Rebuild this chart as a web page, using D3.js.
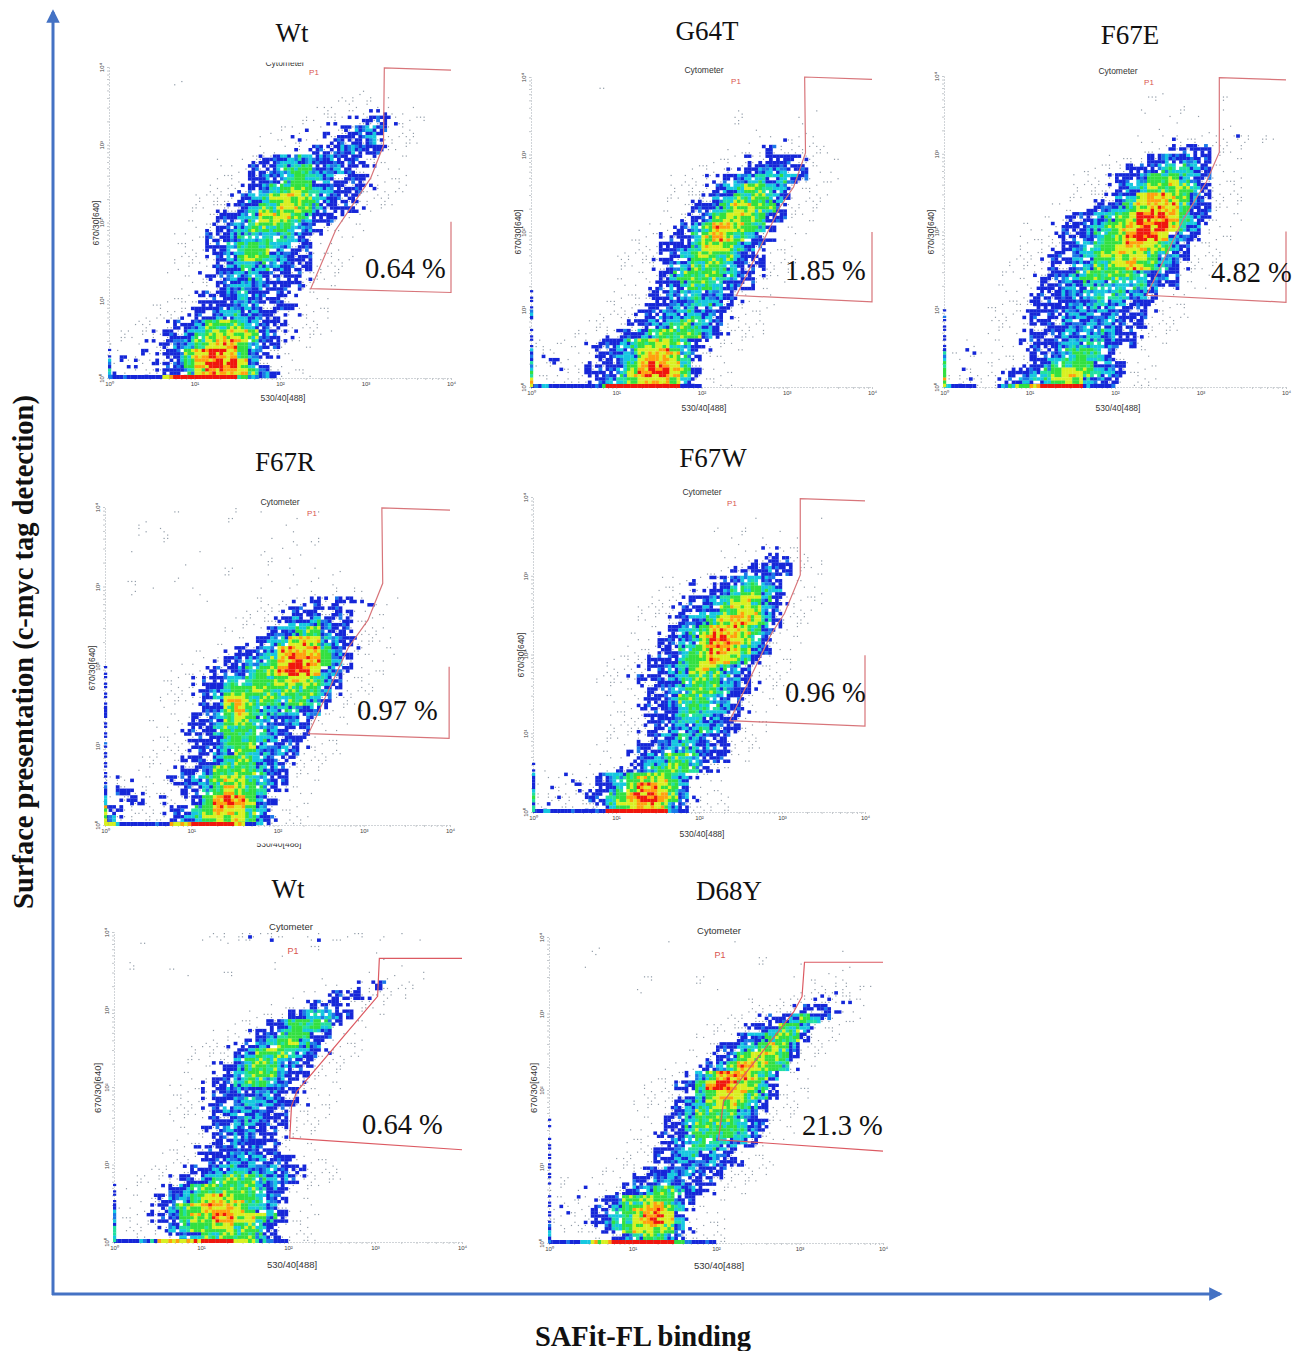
<!DOCTYPE html>
<html>
<head>
<meta charset="utf-8">
<script src="https://cdn.jsdelivr.net/npm/d3@7"></script>
<style>
  html, body { margin: 0; background: #fff; }
  svg { display: block; }
  .title, .pct, .axis-title { font-family: "Liberation Serif", serif; fill: #111; }
  .small { font-family: "Liberation Sans", sans-serif; fill: #333; }
  .tick text { font-family: "Liberation Sans", sans-serif; fill: #444; font-size: 6px; }
</style>
</head>
<body>
<div id="chart"></div>
<script>
// ---- Data -------------------------------------------------------
// Density, 8 cells per decade, top row = 10^4 side.
// . empty, 1 stray events, 2-3 blue, 4 light blue, 5 cyan, 6 green, 7 yellow, 8 orange, 9 red

const titles = ['Wt', 'G64T', 'F67E', 'F67R', 'F67W', 'Wt', 'D68Y'];
const percents = ['0.64 %', '1.85 %', '4.82 %', '0.97 %', '0.96 %', '0.64 %', '21.3 %'];
const decades = [0, 1, 2, 3, 4];

const gridWt1 = [
  '','......1','.......................1','.....................1111.1',
  '....................11212211','...................122223321',
  '................11212234431','................121123334211',
  '..............1112233444331','.............2334544443321',
  '.............3345664443321','.............3445665433321',
  '............23456665433321','...........23456776543321',
  '..........233566776533321','..........3345777653321',
  '.........23456666543211','.........334555554321',
  '.........33566654331','.........234666543321',
  '.........23455544331','.......1223445433321',
  '........12345443332','........23345433321',
  '.......2333444333211','.....1223345543322',
  '.....2334666643321','....233456777643221',
  '...223456788754321','.212234689986432',
  '.221234689997431','2212233578888643'
];
const gridG64T = [
  '','......1','','...................1......1',
  '......1............1.....1','.....................1...1',
  '....................1..21.1','...................112321111',
  '...................122333221','.................1223444331',
  '................22344555431','................2345665421',
  '...............23456665421','..............13356776631',
  '..............23467776431','.............23468876531',
  '............23357876532','...........133457765431',
  '...........233566664321','...........234566654331',
  '...........23566665432','..........123456654331',
  '.........123345544321','.........123344554321',
  '........123344554321','.......123345565432',
  '......1233456666432','.12..233456776532',
  '.21..133457887532','.22.1233468987531',
  '.1212334578998631','.1.1.23456788742'
];
const gridF67E = [
  '','....................1','...................1......1','..................1...1...1',
  '.....................1.1','....................11..1.1',
  '....................12111..21','....................123331',
  '................1.23444431','...............12334555431',
  '...............23346665431','..............123456676531',
  '.............1234578876431','.............2345678886431',
  '...........233456799986431','..........233456789997542',
  '..........23345678997543','.........123456678876531',
  '.........233456677765431','........123345667876542',
  '........23345666665443','........233445555554331',
  '.......12334455554431','......12333444544332',
  '.......2333444443332','.......2333444443331',
  '.......233344554332','..1....233445554332',
  '..2....23345665321','.1....123456665431',
  '.2..12334567765431','.22.12345567754321'
];
const gridF67R = [
  '......1.....1.1.1..1','...1.......1....11','...1.1.........1.1','.....1.........1.1.1',
  '..1.....1.....1.1.1','.......1.......1.1','...........1...1.1.1.1',
  '..1...1........1.1.1.1','..1.1...1.....1..1.1.1.1',
  '.........1......1223233221','...............123333321',
  '...............234554331','..............2345664331',
  '............123457875432','..........12334588886432',
  '.........12334568998643','.........23345678997542',
  '........23355666677653','........23466666666642',
  '........2357866656653','.......12346865555442',
  '.......2334676544432','.......2335666543331',
  '.......233466654332','......1233456654432',
  '.....12333466644321','.1...1233466665431',
  '.22.12334567765431','.3221.13356876532',
  '.232.2.2368986431','322..23356887642','42...23456777643'
];
const gridF67W = [
  '','','.....................1.....1','.................1..1..1',
  '...................1..1..1','..................1..1221.1',
  '...................1123331.1','.................1.23344311',
  '...............2123455431','..............12234566542',
  '.............123345676532','.............233456777531',
  '............133456788753','............234568887642',
  '............334579987531','..........1133567987643',
  '..........233456787653','.........1233456765432',
  '.........2333456665432','..........233456665432',
  '..........23346665432','..........23345655432',
  '.........123345554331','..........23344554331',
  '.........12344554331','.........23345554331',
  '........123456654331','.1.....12345676532',
  '.1.2.13456777642','.21.223457887641',
  '.22.133568998642','.2..123567887532'
];
const gridWt2 = [
  '......1.1.1.2.2...2.1.1.1.1.1','..1.......1.......1','........1......1........1',
  '.1...1........1.........1.1','....1.1...1........1...1.1..1',
  '.....................1223.1','..................123332.1',
  '...............11233321','..............123455431',
  '.............134666531','...........1234566531',
  '..........2234566542','..........2346665432',
  '.........2346665432','........12356664331',
  '........2335665432','........2344444332',
  '........2334544332','........2344443321',
  '........233454332','........23444332',
  '.......123344332','.......233444332',
  '.......13344443321','.....1233455544332',
  '.....2334566654432','...1234566666543',
  '..12345678776543','...23567888765431',
  '...2346778877653','...1245666766531','....134566666532'
];
const gridD68Y = [
  '...........1.....1','....1.......................1','....................1...1',
  '...1...................1..1.1','.........1....1........1.1.11',
  '........1.......1.......1.1211','...................1...1.22221',
  '...................1..123332','...................12334653',
  '.................123356642','................123456663',
  '...............1334567641','..............1234677763',
  '..............2346887652','............12468987641',
  '...........13468987652','............2356787653',
  '...........23456776531','..........13356666542',
  '...........3356666543','..........23356666543',
  '..........2345655443','.........1334555431',
  '........12334444332','.......12334443332',
  '.1.....2334543332','.1.2.12345665432',
  '.12.23466776431','.2..3356788752',
  '.1.23456789752','.1..2356777642','.....134566532'
];
const grids = [gridWt1, gridG64T, gridF67E, gridF67R, gridF67W, gridWt2, gridD68Y];

// events piled on the axes: along x from 10^0, along y from 10^0 upward
const stripsX = ['44335799999964', '4433345999999933', '433..46689999433', '74333378999984',
  '543333499999943', '3445788899987543', '4335789999996433'];
const stripsY = ['543', '765433.433', '76653333', '7754333333343333', '55443', '554433', '44333.33333.3'];

// gate outlines in decades [x, y]; right side stops where the % label box covers it
const gates = [
  [[4, 3.96], [3.22, 3.99], [3.21, 2.99], [3.06, 2.57], [2.65, 1.9], [2.36, 1.15], [4, 1.1], [4, 2.01]],
  [[4, 3.97], [3.21, 4], [3.22, 3.02], [3.08, 2.58], [2.92, 2.32], [2.41, 1.18], [4, 1.1], [4, 2]],
  [[4, 3.95], [3.22, 3.98], [3.22, 3.02], [3.07, 2.64], [2.8, 2.16], [2.37, 1.18], [4, 1.09], [4, 2]],
  [[4, 3.96], [3.21, 3.99], [3.22, 3.04], [3.05, 2.58], [2.82, 2.23], [2.36, 1.15], [3.99, 1.09], [3.99, 1.99]],
  [[4, 3.95], [3.22, 3.98], [3.22, 3.01], [3.03, 2.52], [2.87, 2.26], [2.37, 1.16], [4, 1.09], [4, 1.99]],
  [[4, 3.66], [3.05, 3.66], [3.03, 3.17], [2.1, 1.94], [2.04, 1.75], [2.02, 1.34], [4, 1.19]],
  [[4, 3.67], [3.06, 3.67], [3.03, 3.22], [2.93, 3.02], [2.09, 1.85], [2.03, 1.35], [4, 1.2]]
];

// ---- Layout -----------------------------------------------------
const W = 1302, H = 1351;
const frames = [
  { l: 109, r: 451, t: 67,  b: 378,  title: [292, 42],  pct: [365, 278],  cyto: [285, 66],  p1: [314, 75],  xl: [283, 401],  yl: [96, 223],   fs: 8.5 },
  { l: 531, r: 872, t: 77,  b: 387,  title: [707, 40],  pct: [785, 280],  cyto: [704, 73],  p1: [736, 84],  xl: [704, 411],  yl: [518, 232],  fs: 8.5 },
  { l: 944, r: 1286, t: 76, b: 387,  title: [1130, 44], pct: [1211, 282], cyto: [1118, 74], p1: [1149, 85], xl: [1118, 411], yl: [931, 232],  fs: 8.5 },
  { l: 105, r: 450, t: 507, b: 825,  title: [285, 471], pct: [357, 720],  cyto: [280, 505], p1: [312, 516], xl: [279, 847],  yl: [92, 668],   fs: 8.5 },
  { l: 533, r: 865, t: 497, b: 812,  title: [713, 467], pct: [785, 702],  cyto: [702, 495], p1: [732, 506], xl: [702, 837],  yl: [521, 655],  fs: 8.5 },
  { l: 114, r: 462, t: 932, b: 1242, title: [288, 898], pct: [362, 1134], cyto: [291, 930], p1: [293, 954], xl: [292, 1268], yl: [98, 1088],  fs: 9.5 },
  { l: 549, r: 883, t: 937, b: 1243, title: [729, 900], pct: [802, 1135], cyto: [719, 934], p1: [720, 958], xl: [719, 1269], yl: [534, 1088], fs: 9.5 }
];
// strips of the scan that were cropped in the figure
const covers = [[250, 50, 70, 12.5], [670, 480, 70, 9], [250, 836, 70, 7.5]];

const colors = { b: '#1428d8', l: '#1a78e8', c: '#18c8e0', t: '#20e0a0', g: '#30e040', y: '#d8f020', o: '#ffa010', r: '#f01810' };
// which colour a bin of a cell takes, picked by the digit of the speckle mask
const mix = {
  1: 's.......s.', 2: 'bb.s..s...', 3: 'bbbbbl.b.s', 4: 'bbblclc.bc', 5: 'lcctcgtc.b',
  6: 'tggcgtgggy', 7: 'gyygyyyogy', 8: 'yoyoooryoy', 9: 'rrorrrroyr'
};
// fixed dither mask so one cell breaks up into speckle like the instrument's bins
const speckle = '3141592653589793238462643383279502884197169399375105820974944592307816406286208998628034825342117067';

const svg = d3.select('#chart').append('svg').attr('width', W).attr('height', H);
const defs = svg.append('defs');
defs.append('filter').attr('id', 'soft').append('feGaussianBlur').attr('stdDeviation', 0.45);
defs.append('marker').attr('id', 'arrow').attr('viewBox', '0 0 10 10').attr('refX', 8).attr('refY', 5)
  .attr('markerWidth', 4.5).attr('markerHeight', 4.5).attr('orient', 'auto')
  .append('path').attr('d', 'M0,0L10,5L0,10z').attr('fill', '#4472c4');

const sup = { 0: '⁰', 1: '¹', 2: '²', 3: '³', 4: '⁴' };
const dec = d => Math.pow(10, d);

// stray events also surround the cloud, up to 3 cells either side of it
function withFringe(row) {
  return d3.range(32).map(c => {
    const v = row[c] || '.';
    if (v !== '.') return v;
    const near = d3.range(-3, 4).some(k => row[c + k] && row[c + k] > '1');
    return near ? '1' : '.';
  }).join('');
}

frames.forEach((f, idx) => {
  const x = d3.scaleLog().domain([1, 1e4]).range([f.l, f.r]);
  const y = d3.scaleLog().domain([1, 1e4]).range([f.b, f.t]);
  const g = svg.append('g');

  // ---- Axes ----
  const fmt = d => { const e = decades.find(k => dec(k) === d); return e === undefined ? '' : '10' + sup[e]; };
  const ax = g.append('g').attr('transform', `translate(0,${f.b})`)
    .call(d3.axisBottom(x).tickValues(x.ticks()).tickFormat(fmt).tickSize(2).tickPadding(2));
  const ay = g.append('g').attr('transform', `translate(${f.l},0)`)
    .call(d3.axisLeft(y).tickValues(y.ticks()).tickFormat(fmt).tickSize(2).tickPadding(2));
  ay.selectAll('text').attr('transform', 'rotate(-90)').attr('x', 0).attr('y', -5).attr('dy', 0).attr('text-anchor', 'middle');
  [ax, ay].forEach(a => {
    a.select('.domain').attr('stroke', '#d0d4d8').attr('stroke-dasharray', '2 1');
    a.selectAll('line').attr('stroke', '#c4c8cc');
  });

  // ---- Density bins ----
  const bins = [];
  const cellW = c => x(dec((c + 1) / 8)) - x(dec(c / 8));
  const cellH = r => y(dec(4 - (r + 1) / 8)) - y(dec(4 - r / 8));
  grids[idx].map(withFringe).forEach((row, r) => {
    for (let c = 0; c < row.length; c++) {
      if (row[c] === '.') continue;
      d3.range(3).forEach(i => d3.range(3).forEach(j => {
        const bx = c * 3 + i, by = r * 3 + j;
        const key = mix[row[c]][+speckle[(bx * 37 + by * 61 + idx * 11) % 100]];
        if (key === '.') return;
        bins.push({ key, c, r, i, j });
      }));
    }
  });
  const dens = g.append('g').attr('filter', 'url(#soft)');
  dens.selectAll('rect.bin').data(bins).join('rect').attr('class', 'bin')
    .attr('x', d => x(dec(d.c / 8)) + d.i * cellW(d.c) / 3 + (d.key === 's' ? 1 : 0))
    .attr('y', d => y(dec(4 - d.r / 8)) + d.j * cellH(d.r) / 3 + (d.key === 's' ? 1 : 0))
    .attr('width', d => d.key === 's' ? 1.2 : cellW(d.c) / 3 + 0.2)
    .attr('height', d => d.key === 's' ? 1.2 : cellH(d.r) / 3 + 0.2)
    .attr('fill', d => d.key === 's' ? '#8f9aa6' : colors[d.key]);

  // events sitting on the axes
  const onX = [], onY = [];
  stripsX[idx].split('').forEach((v, c) => {
    if (v !== '.') d3.range(3).forEach(i => onX.push({ v, c, i }));
  });
  stripsY[idx].split('').forEach((v, r) => {
    if (v !== '.') d3.range(3).forEach(i => onY.push({ v, r: 31 - r, i }));
  });
  const pick = (v, n) => {
    if (v === '9') return colors.r;
    const k = mix[v][+speckle[(n * 37 + idx * 11) % 100]];
    return k === '.' || k === 's' ? colors.b : colors[k];
  };
  dens.selectAll('rect.sx').data(onX).join('rect').attr('class', 'sx')
    .attr('x', d => x(dec(d.c / 8)) + d.i * cellW(d.c) / 3)
    .attr('y', f.b - 3).attr('width', d => cellW(d.c) / 3 + 0.2).attr('height', 4)
    .attr('fill', d => pick(d.v, d.c * 3 + d.i));
  // the y strip is dotted where few events sit on it
  dens.selectAll('rect.sy').data(onY.filter(d => d.v > '3' || d.i !== 1)).join('rect').attr('class', 'sy')
    .attr('x', f.l - 1).attr('y', d => y(dec(4 - d.r / 8)) + d.i * cellH(d.r) / 3)
    .attr('width', 3.2).attr('height', d => cellH(d.r) / 3 + (d.v > '3' ? 0.2 : -1))
    .attr('fill', d => pick(d.v, d.r * 3 + d.i + 50));

  // ---- Gate ----
  const gateLine = d3.line().x(d => x(dec(d[0]))).y(d => y(dec(d[1])));
  g.append('path').attr('d', gateLine(gates[idx])).attr('fill', 'none')
    .attr('stroke', idx > 4 ? '#dc5a62' : '#d8757a').attr('stroke-width', 1.2);

  // ---- Labels ----
  g.append('text').attr('class', 'small').attr('x', f.cyto[0]).attr('y', f.cyto[1]).attr('text-anchor', 'middle')
    .attr('font-size', f.fs).text('Cytometer');
  g.append('text').attr('class', 'small').attr('x', f.p1[0]).attr('y', f.p1[1]).attr('text-anchor', 'middle')
    .attr('font-size', f.fs - 0.5).style('fill', '#d9534f').text('P1');
  g.append('text').attr('class', 'small').attr('x', f.xl[0]).attr('y', f.xl[1]).attr('text-anchor', 'middle')
    .attr('font-size', f.fs).text('530/40[488]');
  g.append('text').attr('class', 'small').attr('text-anchor', 'middle').attr('font-size', f.fs)
    .attr('transform', `translate(${f.yl[0] + 3},${f.yl[1]}) rotate(-90)`).text('670/30[640]');
  g.append('text').attr('class', 'title').attr('x', f.title[0]).attr('y', f.title[1]).attr('text-anchor', 'middle')
    .attr('font-size', 27).text(titles[idx]);
  g.append('text').attr('class', 'pct').attr('x', f.pct[0]).attr('y', f.pct[1])
    .attr('font-size', 28.5).text(percents[idx]);
});

covers.forEach(c => svg.append('rect').attr('x', c[0]).attr('y', c[1]).attr('width', c[2]).attr('height', c[3]).attr('fill', '#fff'));

// ---- Big arrows and axis titles ----
svg.append('line').attr('x1', 53).attr('y1', 1295).attr('x2', 53).attr('y2', 12)
  .attr('stroke', '#4472c4').attr('stroke-width', 3).attr('marker-end', 'url(#arrow)');
svg.append('line').attr('x1', 52).attr('y1', 1294).attr('x2', 1220).attr('y2', 1294)
  .attr('stroke', '#4472c4').attr('stroke-width', 3).attr('marker-end', 'url(#arrow)');
svg.append('text').attr('class', 'axis-title').attr('font-weight', 'bold').attr('font-size', 28.5)
  .attr('text-anchor', 'middle').attr('transform', 'translate(33,652) rotate(-90)')
  .text('Surface presentation (c-myc tag detection)');
svg.append('text').attr('class', 'axis-title').attr('font-weight', 'bold').attr('font-size', 28.5)
  .attr('text-anchor', 'middle').attr('x', 643).attr('y', 1346).text('SAFit-FL binding');
</script>
</body>
</html>
